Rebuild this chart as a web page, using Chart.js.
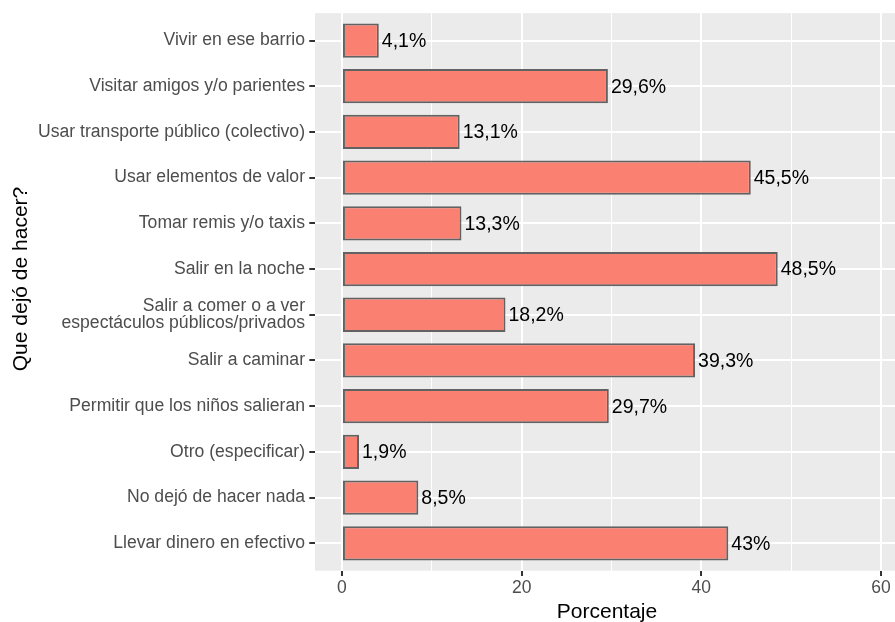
<!DOCTYPE html>
<html>
<head>
<meta charset="utf-8">
<script src="https://cdn.jsdelivr.net/npm/chart.js@4"></script>
<style>
  html, body { margin: 0; padding: 0; overflow: hidden; background: #fff; }
</style>
</head>
<body>
<canvas id="chart" width="910" height="622"></canvas>
<script>
// categories, top to bottom
var categories = [
  'Vivir en ese barrio',
  'Visitar amigos y/o parientes',
  'Usar transporte público (colectivo)',
  'Usar elementos de valor',
  'Tomar remis y/o taxis',
  'Salir en la noche',
  'Salir a comer o a ver\nespectáculos públicos/privados',
  'Salir a caminar',
  'Permitir que los niños salieran',
  'Otro (especificar)',
  'No dejó de hacer nada',
  'Llevar dinero en efectivo'
];
var percents = [4.1, 29.6, 13.1, 45.5, 13.3, 48.5, 18.2, 39.3, 29.7, 1.9, 8.5, 43];
var xTicks = [0, 10, 20, 30, 40, 50, 60];
var xMajorTicks = [0, 20, 40, 60];
var xTitle = 'Porcentaje';
var yTitle = 'Que dejó de hacer?';

function formatPct(v) {
  return String(v).replace('.', ',') + '%';
}

// grey ggplot panel behind everything
const panelBg = {
  id: 'panelBg',
  beforeDraw(chart) {
    const { ctx, chartArea: { left, top, width, height } } = chart;
    ctx.save();
    ctx.fillStyle = '#EBEBEB';
    ctx.fillRect(left, top, width, height);
    ctx.restore();
  }
};

// value labels at the end of each bar
const barLabels = {
  id: 'barLabels',
  afterDatasetsDraw(chart) {
    const { ctx } = chart;
    const meta = chart.getDatasetMeta(0);
    ctx.save();
    ctx.font = '19.5px "Liberation Sans", Arial, sans-serif';
    ctx.fillStyle = '#000';
    ctx.textAlign = 'left';
    ctx.textBaseline = 'middle';
    meta.data.forEach(function(bar, i) {
      ctx.fillText(formatPct(percents[i]), bar.x + 3, bar.y + 1);
    });
    ctx.restore();
  }
};

// axis titles, placed like ggplot does
const axisTitles = {
  id: 'axisTitles',
  afterDraw(chart) {
    const { ctx } = chart;
    ctx.save();
    ctx.font = '21px "Liberation Sans", Arial, sans-serif';
    ctx.fillStyle = '#000';
    ctx.textAlign = 'center';
    ctx.textBaseline = 'alphabetic';
    ctx.fillText(xTitle, 607, 618);
    ctx.translate(27, 279);
    ctx.rotate(-Math.PI / 2);
    ctx.fillText(yTitle, 0, 0);
    ctx.restore();
  }
};

Chart.defaults.font.family = '"Liberation Sans", Arial, sans-serif';

var chart = new Chart('chart', {
  type: 'bar',
  data: {
    datasets: [{
      data: percents.map(function(v, i) { return { x: v, y: i }; }),
      backgroundColor: '#FA8072',
      borderColor: '#626262',
      borderWidth: 2,
      borderSkipped: false,
      barPercentage: 0.75,
      categoryPercentage: 1
    }]
  },
  options: {
    indexAxis: 'y',
    responsive: false,
    animation: false,
    devicePixelRatio: 1,
    layout: { padding: { left: 0, right: 2, top: 11, bottom: 0 } },
    scales: {
      x: {
        type: 'linear',
        min: -3,
        max: 63,
        afterBuildTicks: function(scale) {
          scale.ticks = xTicks.map(function(v) { return { value: v }; });
        },
        afterFit: function(scale) { scale.height = 51.3; },
        border: { display: false },
        grid: {
          color: '#FFFFFF',
          lineWidth: function(c) { return xMajorTicks.includes(c.tick.value) ? 2 : 1; },
          tickColor: function(c) { return xMajorTicks.includes(c.tick.value) ? '#333333' : 'rgba(0,0,0,0)'; },
          tickWidth: 2,
          tickLength: 5.3
        },
        ticks: {
          color: '#4D4D4D',
          font: { size: 17.5 },
          padding: 2,
          maxRotation: 0,
          autoSkip: false,
          callback: function(v) { return xMajorTicks.includes(v) ? String(v) : ''; }
        },
        title: { display: false }
      },
      y: {
        type: 'linear',
        reverse: true,
        offset: false,
        min: -0.6,
        max: 11.6,
        afterBuildTicks: function(scale) {
          scale.ticks = categories.map(function(c, i) { return { value: i }; });
        },
        afterFit: function(scale) { scale.width = 315; },
        border: { display: false },
        grid: {
          offset: false,
          color: '#FFFFFF',
          lineWidth: 2,
          tickColor: '#333333',
          tickWidth: 2,
          tickLength: 5.7
        },
        ticks: {
          color: '#4D4D4D',
          font: { size: 17.6, lineHeight: 1.0 },
          padding: 4.3,
          autoSkip: false,
          callback: function(v) {
            var label = categories[v];
            return label && label.indexOf('\n') >= 0 ? label.split('\n') : label;
          }
        },
        title: { display: false }
      }
    },
    plugins: {
      legend: { display: false },
      tooltip: { enabled: false }
    }
  },
  plugins: [panelBg, barLabels, axisTitles]
});
</script>
</body>
</html>
